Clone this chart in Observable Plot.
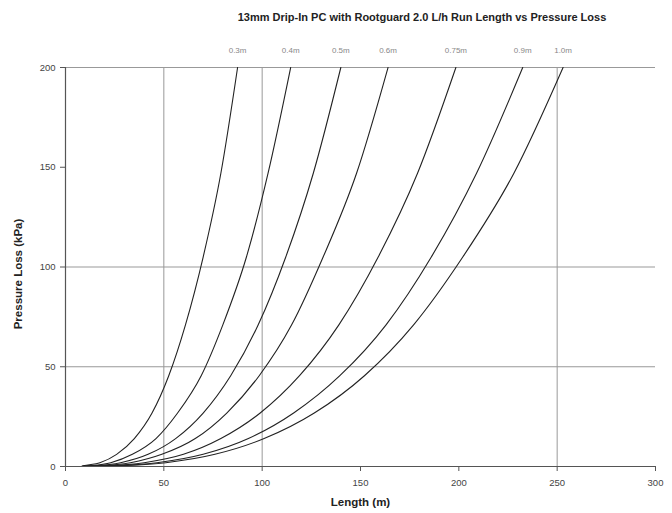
<!DOCTYPE html>
<html>
<head>
<meta charset="utf-8">
<script src="https://cdn.jsdelivr.net/npm/d3@7"></script>
<script src="https://cdn.jsdelivr.net/npm/@observablehq/plot@0.6"></script>
<style>
  body { margin: 0; background: #fff; font-family: "Liberation Sans", Arial, sans-serif; }
  #wrap { position: relative; width: 672px; height: 513px; }
  #title { position: absolute; top: 11px; left: 0; width: 672px; box-sizing: border-box; padding-left: 172px;
           text-align: center; font-size: 11px; font-weight: bold; color: #222; white-space: nowrap; }
</style>
</head>
<body>
<div id="wrap"><div id="title">13mm Drip-In PC with Rootguard 2.0 L/h Run Length vs Pressure Loss</div></div>
<script>
// Emitter spacing labels (one per curve)
const spacings = ["0.3m", "0.4m", "0.5m", "0.6m", "0.75m", "0.9m", "1.0m"];

// Run length (m) and pressure loss (kPa)
const len03 = [8, 9, 17.5, 26, 35, 44, 52.5, 61, 70, 79, 87.5];
const kpa03 = [0, 0.3, 1.9, 6.1, 14, 26.8, 45.5, 71, 105, 147, 200];
const len04 = [8, 11.5, 23, 34, 46, 57, 69, 80, 92, 103, 114.5];
const kpa04 = [0, 0.3, 1.9, 6.1, 14, 26.8, 45.5, 71, 105, 147, 200];
const len05 = [8, 14, 28, 42, 56, 70, 84, 98, 112, 126, 140];
const kpa05 = [0, 0.3, 1.9, 6.1, 14, 26.8, 45.5, 71, 105, 147, 200];
const len06 = [8, 16.5, 33, 49, 66, 82, 98.5, 115, 131, 148, 164];
const kpa06 = [0, 0.3, 1.9, 6.1, 14, 26.8, 45.5, 71, 105, 147, 200];
const len075 = [8, 20, 40, 60, 79, 99, 119, 139, 159, 179, 198.5];
const kpa075 = [0, 0.3, 1.9, 6.1, 14, 26.8, 45.5, 71, 105, 147, 200];
const len09 = [8, 23, 46.5, 70, 93, 116, 139.5, 163, 186, 209, 232.5];
const kpa09 = [0, 0.3, 1.9, 6.1, 14, 26.8, 45.5, 71, 105, 147, 200];
const len10 = [8, 25, 51, 76, 101, 126.5, 152, 177, 202, 228, 253];
const kpa10 = [0, 0.3, 1.9, 6.1, 14, 26.8, 45.5, 71, 105, 147, 200];

const xTicks = [0, 50, 100, 150, 200, 250, 300];
const yTicks = [0, 50, 100, 150, 200];
const xGrid = [50, 100, 250];
const yGrid = [50, 100, 200];
const labelY = 208.5;

const lens = [len03, len04, len05, len06, len075, len09, len10];
const kpas = [kpa03, kpa04, kpa05, kpa06, kpa075, kpa09, kpa10];
const rows = [];
spacings.forEach((s, i) => lens[i].forEach((L, j) => rows.push({spacing: s, length: L, loss: kpas[i][j]})));
const labels = spacings.map((s, i) => ({spacing: s, length: lens[i][lens[i].length - 1], loss: labelY}));

const chart = Plot.plot({
  width: 672,
  height: 513,
  marginLeft: 65,
  marginRight: 17,
  marginTop: 67,
  marginBottom: 47,
  style: {fontFamily: "'Liberation Sans', Arial, sans-serif", background: "transparent", overflow: "visible"},
  x: {domain: [0, 300]},
  y: {domain: [0, 200]},
  marks: [
    Plot.ruleX(xGrid, {stroke: "#999", strokeWidth: 1}),
    Plot.ruleY(yGrid, {stroke: "#999", strokeWidth: 1}),
    Plot.ruleX([0], {stroke: "#555", strokeWidth: 1.2}),
    Plot.ruleY([0], {stroke: "#555", strokeWidth: 1.2}),
    Plot.axisX({ticks: xTicks, tickSize: 5, tickPadding: 8, fontSize: 9.5, fill: "#444", stroke: "#555", label: null}),
    Plot.axisY({ticks: yTicks, tickSize: 5, tickPadding: 5, fontSize: 9.5, fill: "#444", stroke: "#555", label: null}),
    Plot.text(["Length (m)"], {frameAnchor: "bottom", dy: 39, textAnchor: "middle", fontSize: 11.5, fontWeight: "bold", fill: "#222"}),
    Plot.text(["Pressure Loss (kPa)"], {frameAnchor: "left", dx: -47, dy: 7, textAnchor: "middle", rotate: -90, fontSize: 11.5, fontWeight: "bold", fill: "#222"}),
    Plot.line(rows, {x: "length", y: "loss", z: "spacing", stroke: "#222", strokeWidth: 1.1, curve: "monotone-x", clip: true}),
    Plot.text(labels, {x: "length", y: "loss", text: "spacing", fontSize: 8, fill: "#888", clip: false})
  ]
});
chart.style.position = "absolute";
chart.style.top = "0";
chart.style.left = "0";
document.getElementById("wrap").appendChild(chart);
</script>
</body>
</html>
